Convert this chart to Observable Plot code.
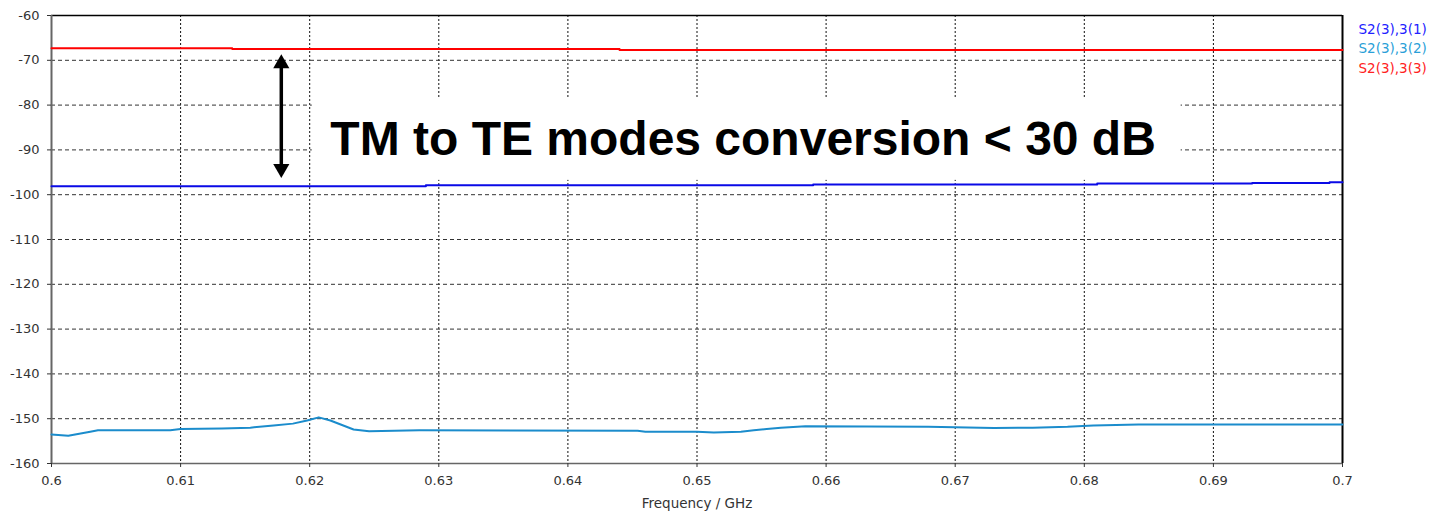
<!DOCTYPE html>
<html>
<head>
<meta charset="utf-8">
<script src="https://cdn.jsdelivr.net/npm/d3@7"></script>
<script src="https://cdn.jsdelivr.net/npm/@observablehq/plot@0.6"></script>
<style>
  body { margin: 0; background: #fff; }
  #chart svg { display: block; }
</style>
</head>
<body>
<div id="chart"></div>
<script>
// Axis ticks
const xTicks = [0.6, 0.61, 0.62, 0.63, 0.64, 0.65, 0.66, 0.67, 0.68, 0.69, 0.7];
const yTicks = [-160, -150, -140, -130, -120, -110, -100, -90, -80, -70, -60];

// Series names and colours (legend order)
const seriesNames = ["S2(3),3(1)", "S2(3),3(2)", "S2(3),3(3)"];
const legendColors = ["#2222ff", "#2a9fd8", "#ff2222"];
const lineColors = ["#0a0ae6", "#1b8ccc", "#ff0000"];

// S2(3),3(1) — TM → TE conversion, stepped trace (frequency GHz, dB)
const s31Freq = [0.6, 0.629, 0.659, 0.681, 0.693, 0.699, 0.7];
const s31Db   = [-98.1, -97.9, -97.7, -97.5, -97.4, -97.2, -97.2];

// S2(3),3(2)
const s32Freq = [0.6, 0.6013, 0.603, 0.6036, 0.6092, 0.61, 0.6132, 0.6154, 0.6172, 0.6187,
                 0.6198, 0.6207, 0.6216, 0.6224, 0.6234, 0.6246, 0.6285, 0.6454, 0.646, 0.65,
                 0.6513, 0.6534, 0.6544, 0.6554, 0.6565, 0.6584, 0.6679, 0.673, 0.676, 0.6787,
                 0.6807, 0.6842, 0.7];
const s32Db   = [-153.5, -153.8, -152.9, -152.6, -152.6, -152.3, -152.2, -152.0, -151.5, -151.1,
                 -150.4, -149.7, -150.4, -151.3, -152.4, -152.8, -152.6, -152.7, -152.9, -152.9,
                 -153.1, -152.9, -152.6, -152.3, -152.0, -151.7, -151.8, -152.1, -152.0, -151.8,
                 -151.5, -151.3, -151.3];

// S2(3),3(3) — stepped trace
const s33Freq = [0.6, 0.614, 0.644, 0.7];
const s33Db   = [-67.3, -67.5, -67.7, -67.7];

// Annotation: double arrow spanning the gap, and the label box
const arrowFreq = [0.6178];
const arrowTopDb = [-68.7];
const arrowBottomDb = [-96.2];
const noteText = ["TM to TE modes conversion < 30 dB"];
const noteBoxFreq = [0.6202, 0.6875];
const noteBoxDb = [-78.5, -96.8];
const noteAt = [0.6216, -87.8];

const toRows = (fs, vs) => fs.map((f, i) => ({f, v: vs[i]}));
const s31 = toRows(s31Freq, s31Db);
const s32 = toRows(s32Freq, s32Db);
const s33 = toRows(s33Freq, s33Db);
const arrow = arrowFreq.map((f, i) => ({f, top: arrowTopDb[i], bottom: arrowBottomDb[i]}));

const chart = Plot.plot({
  width: 1433,
  height: 511,
  marginLeft: 51,
  marginRight: 91,
  marginTop: 15,
  marginBottom: 48,
  style: {fontFamily: "'DejaVu Sans', Verdana, sans-serif", background: "#fff", overflow: "visible"},
  x: {domain: [0.6, 0.7]},
  y: {domain: [-160, -60]},
  marks: [
    // grid
    Plot.gridX(xTicks, {stroke: "#111", strokeOpacity: 1, strokeDasharray: "2,2", strokeWidth: 1}),
    Plot.gridY(yTicks, {stroke: "#333", strokeOpacity: 1, strokeDasharray: "4,3", strokeWidth: 1}),
    // frame
    Plot.ruleY([-60], {stroke: "#000", strokeWidth: 1.5}),
    Plot.ruleX([0.7], {stroke: "#000", strokeWidth: 2}),
    Plot.ruleX([0.6], {stroke: "#666", strokeWidth: 2}),
    Plot.ruleY([-160], {stroke: "#666", strokeWidth: 1.5}),
    // axes
    Plot.axisX({ticks: xTicks, tickFormat: d => String(+d.toFixed(2)), tickSize: 4, tickPadding: 8,
                fontSize: 13, color: "#333", label: null}),
    Plot.axisY({ticks: yTicks, tickFormat: d => String(d), tickSize: 4, tickPadding: 8,
                fontSize: 13, color: "#333", label: null}),
    Plot.text(["Frequency / GHz"], {frameAnchor: "bottom", dy: 40, lineAnchor: "middle",
                fontSize: 13.5, fill: "#333"}),
    // traces
    Plot.line(s32, {x: "f", y: "v", stroke: lineColors[1], strokeWidth: 2}),
    Plot.line(s31, {x: "f", y: "v", stroke: lineColors[0], strokeWidth: 2, curve: "step-after"}),
    Plot.line(s33, {x: "f", y: "v", stroke: lineColors[2], strokeWidth: 2, curve: "step-after"}),
    // annotation box and label
    Plot.rect([{x1: noteBoxFreq[0], x2: noteBoxFreq[1], y1: noteBoxDb[0], y2: noteBoxDb[1]}],
              {x1: "x1", x2: "x2", y1: "y1", y2: "y2", fill: "#fff"}),
    Plot.text(noteText, {x: noteAt[0], y: noteAt[1], textAnchor: "start", lineAnchor: "middle",
              fontFamily: "'Liberation Sans', Arial, sans-serif", fontWeight: "bold",
              fontSize: 48, fill: "#000"}),
    // double-headed arrow
    Plot.ruleX(arrow, {x: "f", y1: "top", y2: "bottom", stroke: "#000", strokeWidth: 3.5,
              insetTop: 10, insetBottom: 10}),
    Plot.dot(arrow, {x: "f", y: "top", symbol: "triangle", r: 6, fill: "#000", stroke: null, dy: 9}),
    Plot.dot(arrow, {x: "f", y: "bottom", symbol: "triangle", r: 6, fill: "#000", stroke: null,
              rotate: 180, dy: -9}),
    // legend in the right margin
    ...seriesNames.map((name, i) => Plot.text([name], {
      frameAnchor: "top-right", textAnchor: "start", lineAnchor: "middle",
      dx: 16, dy: 14 + i * 19.5, fontSize: 13.5, fill: legendColors[i]
    }))
  ]
});

document.getElementById("chart").appendChild(chart);
</script>
</body>
</html>
